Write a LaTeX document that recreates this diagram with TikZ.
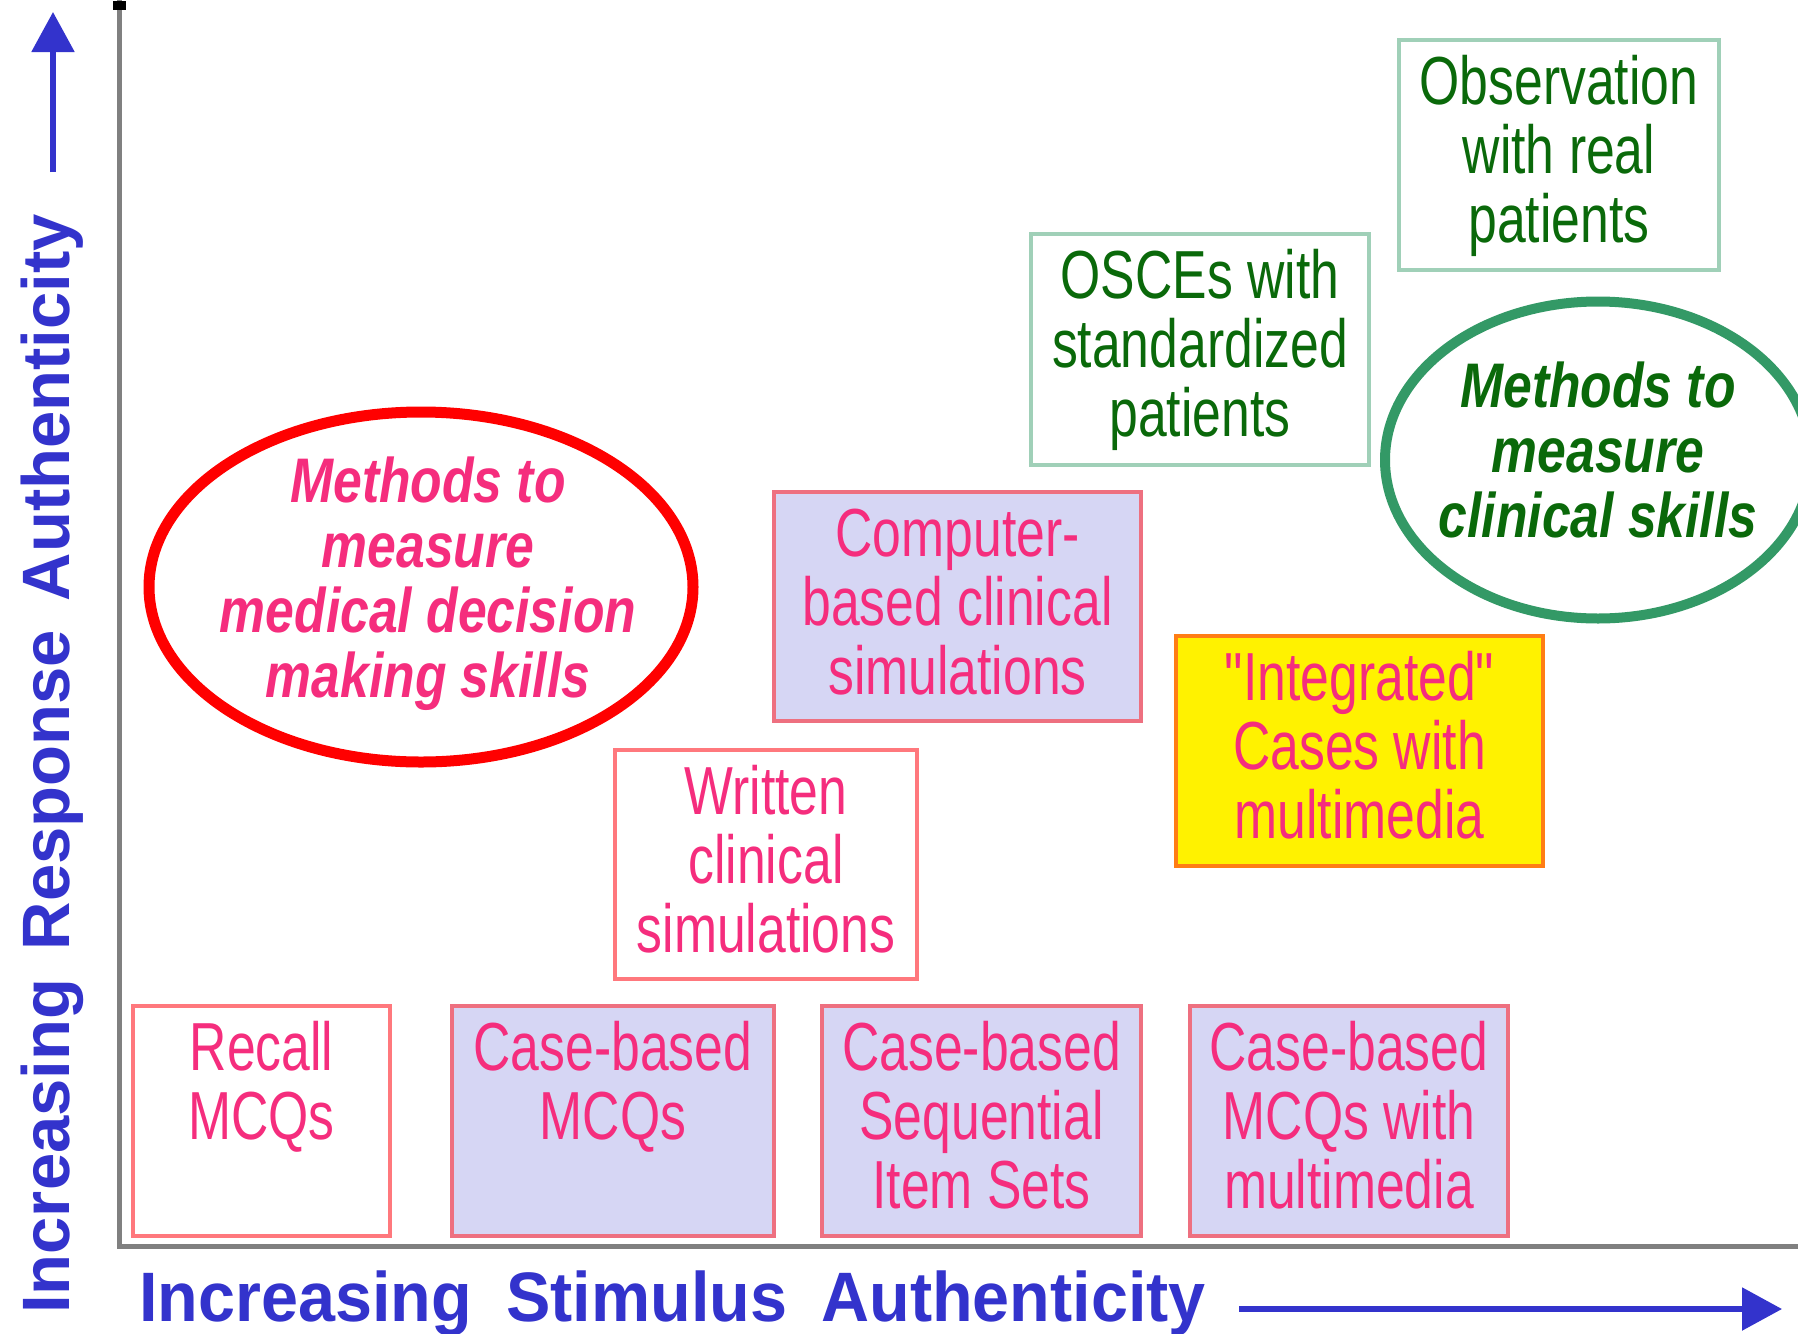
\documentclass[tikz,border=0pt]{standalone}
\usepackage{fontspec}
\usetikzlibrary{arrows.meta,shapes.geometric}
\newfontfamily\boxfont[FakeStretch=0.76]{Liberation Sans}
\newfontfamily\ellfont[FakeStretch=0.82]{Liberation Sans}
\newfontfamily\xlabfont[FakeStretch=0.95]{Liberation Sans}
\newfontfamily\ylabfont{Liberation Sans}
\definecolor{axisblue}{RGB}{51,51,204}
\definecolor{axisgray}{RGB}{128,128,128}
\definecolor{pinktext}{RGB}{245,45,125}
\definecolor{lavender}{RGB}{214,214,244}
\definecolor{pinkborder}{RGB}{255,120,125}
\definecolor{lavborder}{RGB}{238,112,128}
\definecolor{orangeborder}{RGB}{255,125,20}
\definecolor{greenborder}{RGB}{160,208,184}
\definecolor{greentext}{RGB}{10,105,10}
\definecolor{greenoval}{RGB}{51,153,102}
\definecolor{redoval}{RGB}{255,0,0}
\newcommand\topstrut{\rule{0pt}{60pt}}
\begin{document}
\begin{tikzpicture}[x=1pt,y=-1pt,
  box/.style={draw, line width=4.5pt, rectangle, inner sep=0pt, outer sep=0pt},
  pinkbox/.style={box, draw=pinkborder, fill=white},
  lavbox/.style={box, draw=lavborder, fill=lavender},
  yelbox/.style={box, draw=orangeborder, fill=yellow},
  greenbox/.style={box, draw=greenborder, fill=white},
  btext/.style={anchor=north, inner sep=0pt, align=center, text=pinktext,
    font=\boxfont\fontsize{68pt}{69pt}\selectfont},
  gtext/.style={btext, text=greentext},
  etext/.style={anchor=north, inner sep=0pt, align=center,
    font=\ellfont\bfseries\itshape\fontsize{63pt}{65pt}\selectfont},
  oval/.style={draw, ellipse, inner sep=0pt, outer sep=0pt},
  axisline/.style={draw=axisgray, line width=5pt},
  bluearrow/.style={draw=axisblue, line width=5.5pt, -{Triangle[length=40pt,width=42pt]}},
  axislabel/.style={inner sep=0pt, text=axisblue}
]
\useasboundingbox (0,0) rectangle (1798,1333);
\fill[white] (0,0) rectangle (1798,1333);

% axes
\coordinate (ytop) at (119.5,0);
\coordinate (origin) at (119.5,1246);
\coordinate (xend) at (1798,1246);
\draw[axisline] (ytop) -- (origin) -- (xend);
\fill[black] (113,1) rectangle (126,10);

% boxes
\node[pinkbox, minimum width=257pt, minimum height=230pt] (recall) at (261.5,1121) {};
\node[lavbox, minimum width=322pt, minimum height=230pt] (cbmcq) at (613,1121) {};
\node[lavbox, minimum width=319pt, minimum height=230pt] (seq) at (981.5,1121) {};
\node[lavbox, minimum width=318pt, minimum height=230pt] (mmmcq) at (1349,1121) {};
\node[pinkbox, minimum width=302pt, minimum height=229pt] (written) at (766,864.5) {};
\node[lavbox, minimum width=367pt, minimum height=229pt] (computer) at (957.5,606.5) {};
\node[yelbox, minimum width=367pt, minimum height=230pt] (integrated) at (1359.5,751) {};
\node[greenbox, minimum width=338pt, minimum height=231pt] (osce) at (1200,349.5) {};
\node[greenbox, minimum width=320pt, minimum height=230pt] (obs) at (1559,155) {};

% box texts
\node[btext] (recallt) at ([yshift=-4pt]recall.north) {\topstrut Recall\\MCQs};
\node[btext] (cbmcqt) at ([yshift=-4pt]cbmcq.north) {\topstrut Case-based\\MCQs};
\node[btext] (seqt) at ([yshift=-4pt]seq.north) {\topstrut Case-based\\Sequential\\Item Sets};
\node[btext] (mmmcqt) at ([yshift=-4pt]mmmcq.north) {\topstrut Case-based\\MCQs with\\multimedia};
\node[btext] (writtent) at ([yshift=-4pt]written.north) {\topstrut Written\\clinical\\simulations};
\node[btext] (computert) at ([yshift=-4pt]computer.north) {\topstrut Computer-\\based clinical\\simulations};
\node[btext] (integratedt) at ([yshift=-4pt]integrated.north) {\topstrut "Integrated"\\Cases with\\multimedia};
\node[gtext] (oscet) at ([yshift=-4pt]osce.north) {\topstrut OSCEs with\\standardized\\patients};
\node[gtext] (obst) at ([yshift=-4pt]obs.north) {\topstrut Observation\\with real\\patients};

% ovals
\node[oval, draw=redoval, line width=11pt, minimum width=544pt, minimum height=350pt] (redell) at (421,587) {};
\node[etext, text=pinktext] (redellt) at (428,442) {\topstrut Methods to\\measure\\medical decision\\making skills};
\node[oval, draw=greenoval, line width=10pt, minimum width=426pt, minimum height=317pt] (greenell) at (1598,460) {};
\node[etext, text=greentext] (greenellt) at (1598,347) {\topstrut Methods to\\measure\\clinical skills};

% axis arrows
\coordinate (ua0) at (53,172);
\coordinate (ua1) at (53,12);
\draw[bluearrow] (ua0) -- (ua1);
\coordinate (xa0) at (1239,1309);
\coordinate (xa1) at (1782,1309);
\draw[bluearrow] (xa0) -- (xa1);

% axis labels
\node[axislabel, anchor=base west, font=\xlabfont\bfseries\fontsize{70pt}{70pt}\selectfont] (xlab) at (139,1321)
  {Increasing\hspace{16pt} Stimulus\hspace{16pt} Authenticity};
\node[axislabel, rotate=90, anchor=base west, font=\ylabfont\bfseries\fontsize{67pt}{67pt}\selectfont] (ylab) at (69,1314)
  {Increasing\hspace{10pt} Response\hspace{10pt} Authenticity};
\end{tikzpicture}
\end{document}
